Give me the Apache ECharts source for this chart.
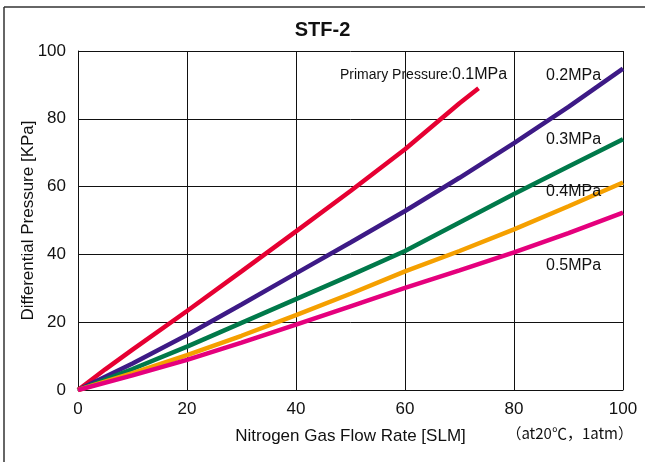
<!DOCTYPE html>
<html>
<head>
<meta charset="utf-8">
<script src="https://cdn.jsdelivr.net/npm/echarts@6/dist/echarts.min.js"></script>
<style>
html,body{margin:0;padding:0;background:#fff;}
#chart{width:645px;height:462px;}
</style>
</head>
<body>
<div id="chart"></div>
<script>
const xTicks = [0, 20, 40, 60, 80, 100];
const yTicks = [0, 20, 40, 60, 80, 100];
const flowRed = [0, 5, 10, 20, 30, 40, 50, 60, 70, 73.5];
const p01 = [0, 6.1, 11.9, 23.3, 35, 46.8, 58.7, 71, 84.6, 89];
const flow = [0, 10, 20, 30, 40, 50, 60, 70, 80, 90, 100];
const p02 = [0, 7.8, 16.2, 25.2, 34.4, 43.5, 52.8, 62.6, 72.8, 83.5, 94.8];
const p03 = [0, 6.2, 12.8, 19.8, 26.8, 33.8, 41, 49.4, 57.8, 65.9, 74];
const p04 = [0, 5.0, 10.3, 16.0, 22.1, 28.4, 35, 41, 47.4, 54.2, 61.2];
const p05 = [0, 4.3, 8.9, 14.0, 19.3, 24.7, 30.1, 35.3, 40.6, 46.3, 52.3];
const seriesNames = ['0.1MPa', '0.2MPa', '0.3MPa', '0.4MPa', '0.5MPa'];
const colors = ['#e60032', '#3d1a86', '#00794a', '#f5a000', '#e5007d'];

const FONT = '"Liberation Sans", Arial, sans-serif';
const pair = (xs, ys) => xs.map((x, i) => [x, ys[i]]);
const allData = [pair(flowRed, p01), pair(flow, p02), pair(flow, p03), pair(flow, p04), pair(flow, p05)];

const chart = echarts.init(document.getElementById('chart'));
chart.setOption({
  animation: false,
  backgroundColor: '#fff',
  title: {
    text: 'STF-2', left: 'center', top: 15,
    textStyle: {fontFamily: FONT, fontWeight: 'bold', fontSize: 20, color: '#111'}
  },
  grid: {left: 78, right: 22, top: 51, bottom: 72},
  xAxis: {
    type: 'value', min: xTicks[0], max: xTicks[xTicks.length - 1], interval: 20,
    name: 'Nitrogen Gas Flow Rate [SLM]', nameLocation: 'middle', nameGap: 38,
    nameMoveOverlap: false,
    nameTextStyle: {fontFamily: FONT, fontSize: 17, color: '#111'},
    axisLine: {lineStyle: {color: '#111', width: 1}},
    axisTick: {show: false},
    axisLabel: {fontFamily: FONT, fontSize: 17, color: '#111', margin: 11},
    splitLine: {show: true, lineStyle: {color: '#111', width: 1}}
  },
  yAxis: {
    type: 'value', min: yTicks[0], max: yTicks[yTicks.length - 1], interval: 20,
    name: 'Differential Pressure [KPa]', nameLocation: 'middle', nameGap: 41, nameRotate: 90,
    nameMoveOverlap: false,
    nameTextStyle: {fontFamily: FONT, fontSize: 17, color: '#111'},
    axisLine: {show: true, lineStyle: {color: '#111', width: 1}},
    axisTick: {show: false},
    axisLabel: {fontFamily: FONT, fontSize: 17, color: '#111', margin: 12},
    splitLine: {show: true, lineStyle: {color: '#111', width: 1}}
  },
  series: allData.map((d, i) => ({
    name: seriesNames[i], type: 'line', data: d, showSymbol: false,
    lineStyle: {color: colors[i], width: 4.5}, itemStyle: {color: colors[i]}, z: 3 + i
  })),
  graphic: [
    {type: 'line', shape: {x1: 4, y1: 7, x2: 645, y2: 7}, style: {stroke: '#333', lineWidth: 1.5}},
    {type: 'line', shape: {x1: 4, y1: 7, x2: 4, y2: 462}, style: {stroke: '#333', lineWidth: 1.5}},
    {type: 'text', left: 340, top: 67, z: 20, style: {
      text: '{a|Primary Pressure:}{b|0.1MPa}',
      rich: {a: {fontFamily: FONT, fontSize: 14, fill: '#111'}, b: {fontFamily: FONT, fontSize: 16, fill: '#111'}}
    }},
    {type: 'text', left: 546, top: 68, z: 20, style: {text: '0.2MPa', font: '16px ' + FONT, fill: '#111'}},
    {type: 'text', left: 546, top: 132, z: 20, style: {text: '0.3MPa', font: '16px ' + FONT, fill: '#111'}},
    {type: 'text', left: 546, top: 184, z: 20, style: {text: '0.4MPa', font: '16px ' + FONT, fill: '#111'}},
    {type: 'text', left: 546, top: 258, z: 20, style: {text: '0.5MPa', font: '16px ' + FONT, fill: '#111'}},
    {type: 'text', right: 12, top: 426, z: 20, style: {text: '（at20℃，1atm）', font: '15px "Noto Sans CJK JP", sans-serif', fill: '#111'}}
  ]
});
</script>
</body>
</html>
